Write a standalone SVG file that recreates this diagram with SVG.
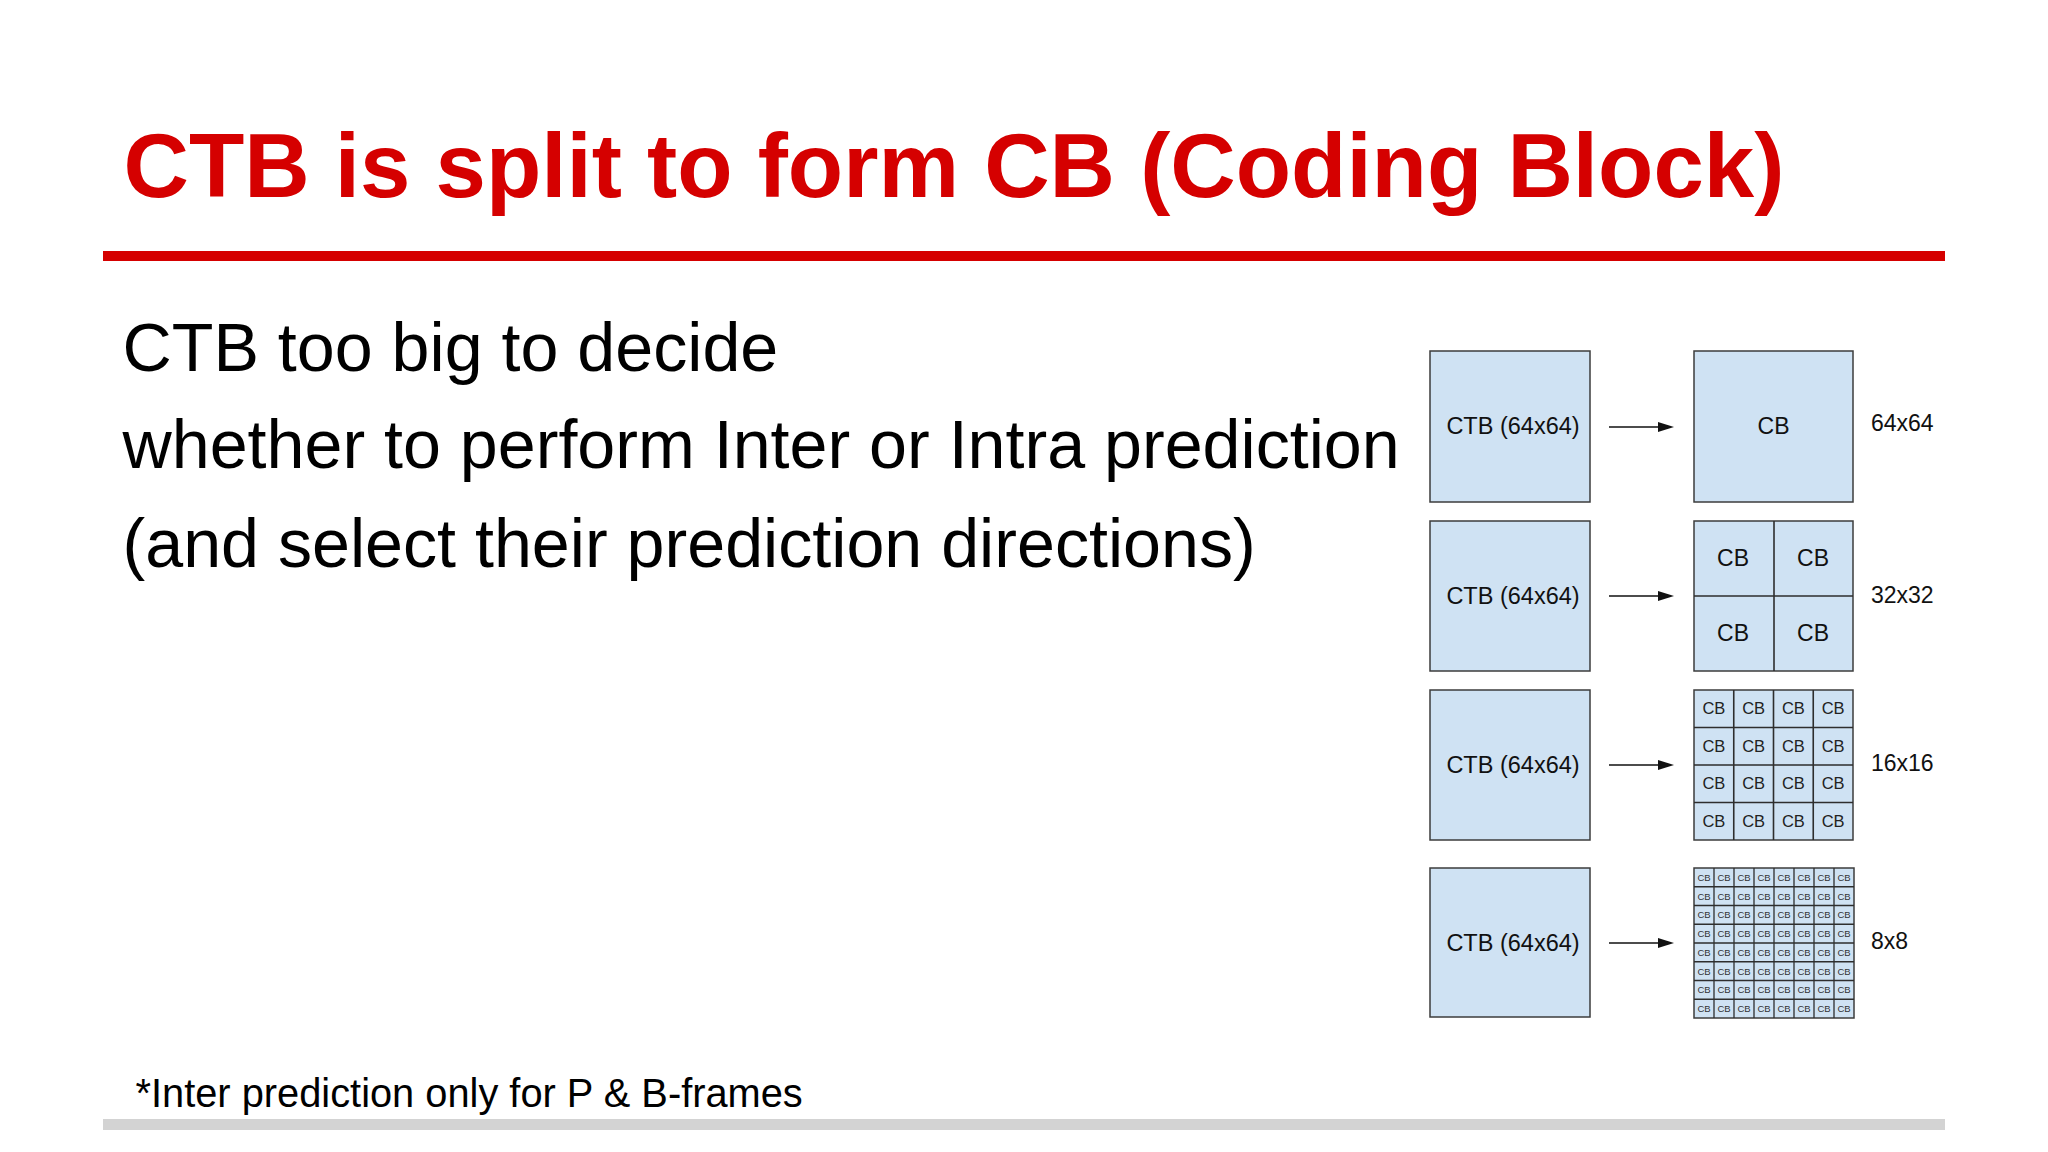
<svg xmlns="http://www.w3.org/2000/svg" width="2048" height="1152" viewBox="0 0 2048 1152">
<defs>
<style>
.title{font-family:"Liberation Sans",Arial,sans-serif;font-weight:bold;font-size:90.6px;fill:#d50000}
.body{font-family:"Liberation Sans",Arial,sans-serif;font-size:68.2px;fill:#000}
.foot{font-family:"Liberation Sans",Arial,sans-serif;font-size:39.8px;fill:#000}
.box{fill:#cfe2f3;stroke:#3c3c3c;stroke-width:1.5}
.grid{fill:none;stroke:#2e2e2e;stroke-width:1.6}
.lbl{font-family:"Liberation Sans",Arial,sans-serif;font-size:23px;fill:#111}
.ctb{font-family:"Liberation Sans",Arial,sans-serif;font-size:23.5px;fill:#111;text-anchor:middle}
.ctr{text-anchor:middle}
.c16{font-family:"Liberation Sans",Arial,sans-serif;font-size:16.5px;fill:#222;text-anchor:middle}
.c8{font-family:"Liberation Sans",Arial,sans-serif;font-size:9.5px;fill:#333;text-anchor:middle}
.arrow{stroke:#111;stroke-width:1.4;fill:none}
</style>
<marker id="ah" markerUnits="userSpaceOnUse" markerWidth="16" markerHeight="10" refX="8" refY="5" orient="auto">
<path d="M0,0 L16,5 L0,10 z" fill="#111"/>
</marker>
</defs>
<rect width="2048" height="1152" fill="#fff"/>

<g id="title">
<text class="title" x="123.5" y="197">CTB is split to form CB (Coding Block)</text>
<rect x="103" y="251" width="1842" height="10" fill="#d50000"/>
</g>

<g id="body-text">
<text class="body" x="122.5" y="371">CTB too big to decide</text>
<text class="body" x="122.5" y="468">whether to perform Inter or Intra prediction</text>
<text class="body" x="122.5" y="567">(and select their prediction directions)</text>
</g>

<g id="footnote">
<text class="foot" x="135.5" y="1107">*Inter prediction only for P &amp; B-frames</text>
<rect x="103" y="1119" width="1842" height="11" fill="#d3d3d3"/>
</g>

<g id="ctb1">
<rect class="box" x="1430" y="351" width="160" height="151"/>
<text class="ctb" x="1513" y="434">CTB (64x64)</text>
</g>
<g id="ctb2">
<rect class="box" x="1430" y="521" width="160" height="150"/>
<text class="ctb" x="1513" y="604">CTB (64x64)</text>
</g>
<g id="ctb3">
<rect class="box" x="1430" y="690" width="160" height="150"/>
<text class="ctb" x="1513" y="773">CTB (64x64)</text>
</g>
<g id="ctb4">
<rect class="box" x="1430" y="868" width="160" height="149"/>
<text class="ctb" x="1513" y="951">CTB (64x64)</text>
</g>

<g id="connectors">
<line class="arrow" x1="1609" y1="427" x2="1666" y2="427" marker-end="url(#ah)"/>
<line class="arrow" x1="1609" y1="596" x2="1666" y2="596" marker-end="url(#ah)"/>
<line class="arrow" x1="1609" y1="765" x2="1666" y2="765" marker-end="url(#ah)"/>
<line class="arrow" x1="1609" y1="943" x2="1666" y2="943" marker-end="url(#ah)"/>
</g>

<g id="cb64">
<rect class="box" x="1694" y="351" width="159" height="151"/>
<text class="lbl ctr" x="1773.5" y="434">CB</text>
<text class="lbl" x="1871" y="431">64x64</text>
</g>

<g id="cb32">
<rect class="box" x="1694" y="521" width="159" height="150"/>
<path class="grid" d="M1774,521 V671 M1694,596 H1853"/>
<text class="lbl ctr" x="1733" y="566">CB</text>
<text class="lbl ctr" x="1813" y="566">CB</text>
<text class="lbl ctr" x="1733" y="641">CB</text>
<text class="lbl ctr" x="1813" y="641">CB</text>
<text class="lbl" x="1871" y="603">32x32</text>
</g>

<g id="cb16">
<rect class="box" x="1694" y="690" width="159" height="150"/>
<path class="grid" d="M1733.75,690 V840 M1773.5,690 V840 M1813.25,690 V840 M1694,727.5 H1853 M1694,765 H1853 M1694,802.5 H1853"/>
<text class="c16" x="1713.9" y="714.2">CB</text><text class="c16" x="1753.6" y="714.2">CB</text><text class="c16" x="1793.4" y="714.2">CB</text><text class="c16" x="1833.1" y="714.2">CB</text>
<text class="c16" x="1713.9" y="751.7">CB</text><text class="c16" x="1753.6" y="751.7">CB</text><text class="c16" x="1793.4" y="751.7">CB</text><text class="c16" x="1833.1" y="751.7">CB</text>
<text class="c16" x="1713.9" y="789.2">CB</text><text class="c16" x="1753.6" y="789.2">CB</text><text class="c16" x="1793.4" y="789.2">CB</text><text class="c16" x="1833.1" y="789.2">CB</text>
<text class="c16" x="1713.9" y="826.7">CB</text><text class="c16" x="1753.6" y="826.7">CB</text><text class="c16" x="1793.4" y="826.7">CB</text><text class="c16" x="1833.1" y="826.7">CB</text>
<text class="lbl" x="1871" y="771">16x16</text>
</g>

<g id="cb8">
<rect class="box" x="1694" y="868" width="160" height="150"/>
<path class="grid" style="stroke-width:1.3" d="M1714,868 V1018 M1734,868 V1018 M1754,868 V1018 M1774,868 V1018 M1794,868 V1018 M1814,868 V1018 M1834,868 V1018 M1694,886.75 H1854 M1694,905.5 H1854 M1694,924.25 H1854 M1694,943 H1854 M1694,961.75 H1854 M1694,980.5 H1854 M1694,999.25 H1854"/>
<text class="c8" x="1704" y="880.8">CB</text><text class="c8" x="1724" y="880.8">CB</text><text class="c8" x="1744" y="880.8">CB</text><text class="c8" x="1764" y="880.8">CB</text><text class="c8" x="1784" y="880.8">CB</text><text class="c8" x="1804" y="880.8">CB</text><text class="c8" x="1824" y="880.8">CB</text><text class="c8" x="1844" y="880.8">CB</text>
<text class="c8" x="1704" y="899.5">CB</text><text class="c8" x="1724" y="899.5">CB</text><text class="c8" x="1744" y="899.5">CB</text><text class="c8" x="1764" y="899.5">CB</text><text class="c8" x="1784" y="899.5">CB</text><text class="c8" x="1804" y="899.5">CB</text><text class="c8" x="1824" y="899.5">CB</text><text class="c8" x="1844" y="899.5">CB</text>
<text class="c8" x="1704" y="918.3">CB</text><text class="c8" x="1724" y="918.3">CB</text><text class="c8" x="1744" y="918.3">CB</text><text class="c8" x="1764" y="918.3">CB</text><text class="c8" x="1784" y="918.3">CB</text><text class="c8" x="1804" y="918.3">CB</text><text class="c8" x="1824" y="918.3">CB</text><text class="c8" x="1844" y="918.3">CB</text>
<text class="c8" x="1704" y="937">CB</text><text class="c8" x="1724" y="937">CB</text><text class="c8" x="1744" y="937">CB</text><text class="c8" x="1764" y="937">CB</text><text class="c8" x="1784" y="937">CB</text><text class="c8" x="1804" y="937">CB</text><text class="c8" x="1824" y="937">CB</text><text class="c8" x="1844" y="937">CB</text>
<text class="c8" x="1704" y="955.8">CB</text><text class="c8" x="1724" y="955.8">CB</text><text class="c8" x="1744" y="955.8">CB</text><text class="c8" x="1764" y="955.8">CB</text><text class="c8" x="1784" y="955.8">CB</text><text class="c8" x="1804" y="955.8">CB</text><text class="c8" x="1824" y="955.8">CB</text><text class="c8" x="1844" y="955.8">CB</text>
<text class="c8" x="1704" y="974.5">CB</text><text class="c8" x="1724" y="974.5">CB</text><text class="c8" x="1744" y="974.5">CB</text><text class="c8" x="1764" y="974.5">CB</text><text class="c8" x="1784" y="974.5">CB</text><text class="c8" x="1804" y="974.5">CB</text><text class="c8" x="1824" y="974.5">CB</text><text class="c8" x="1844" y="974.5">CB</text>
<text class="c8" x="1704" y="993.3">CB</text><text class="c8" x="1724" y="993.3">CB</text><text class="c8" x="1744" y="993.3">CB</text><text class="c8" x="1764" y="993.3">CB</text><text class="c8" x="1784" y="993.3">CB</text><text class="c8" x="1804" y="993.3">CB</text><text class="c8" x="1824" y="993.3">CB</text><text class="c8" x="1844" y="993.3">CB</text>
<text class="c8" x="1704" y="1012">CB</text><text class="c8" x="1724" y="1012">CB</text><text class="c8" x="1744" y="1012">CB</text><text class="c8" x="1764" y="1012">CB</text><text class="c8" x="1784" y="1012">CB</text><text class="c8" x="1804" y="1012">CB</text><text class="c8" x="1824" y="1012">CB</text><text class="c8" x="1844" y="1012">CB</text>
<text class="lbl" x="1871" y="949">8x8</text>
</g>
</svg>
